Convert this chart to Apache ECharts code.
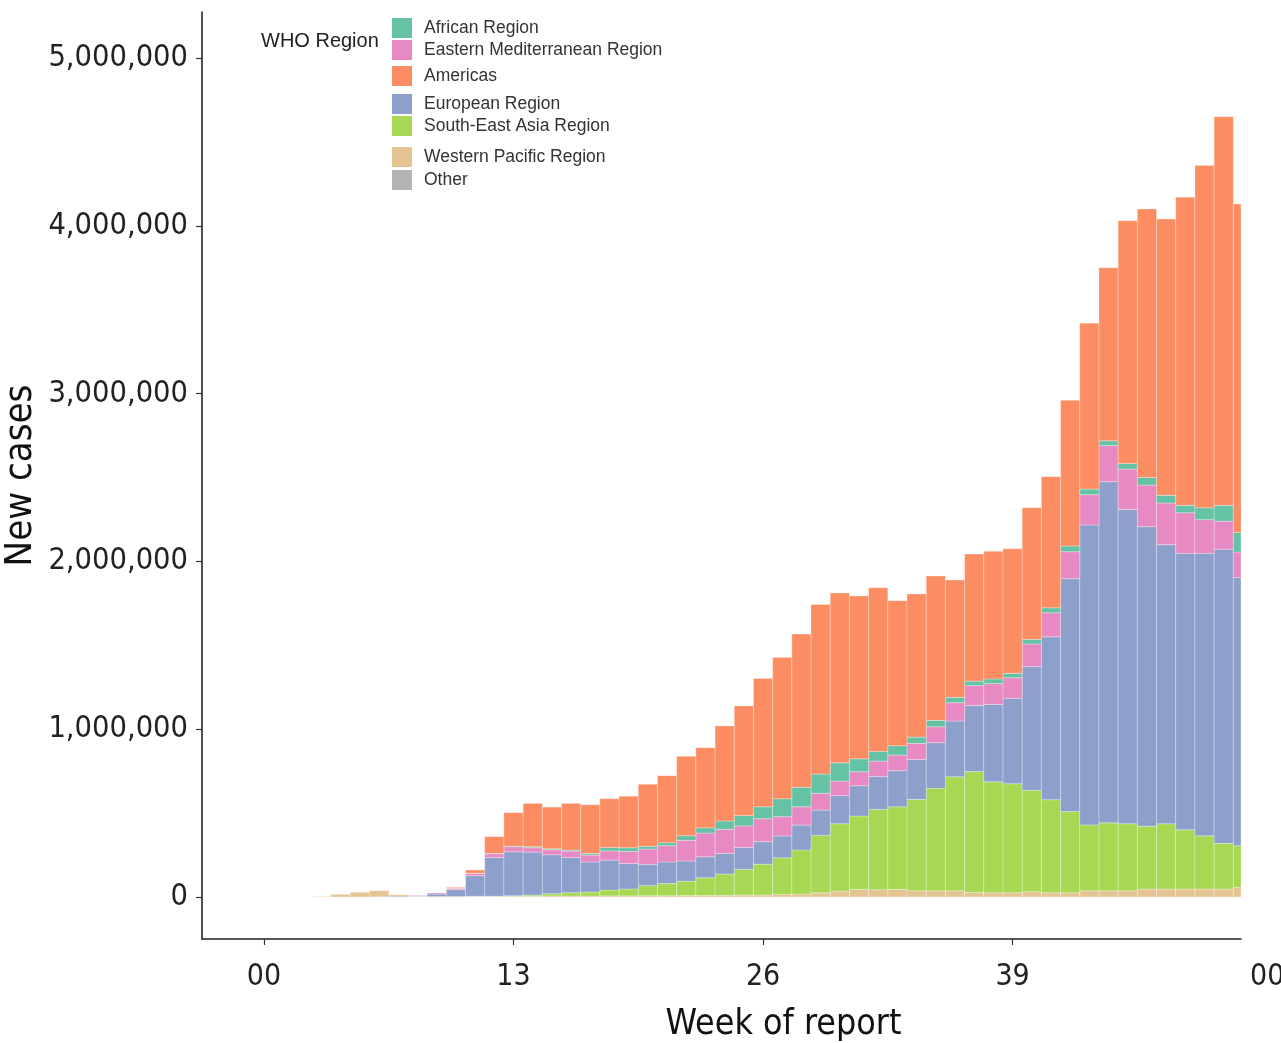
<!DOCTYPE html>
<html>
<head>
<meta charset="utf-8">
<title>New cases by WHO region</title>
<script src="https://cdn.jsdelivr.net/npm/echarts@6/dist/echarts.min.js"></script>
<style>
    html, body { margin: 0; padding: 0; background: #ffffff; }
    #chart { width: 1281px; height: 1043px; }
</style>
</head>
<body>
<div id="chart"></div>
<script>
// Week of report
const weeks = [0, 1, 2, 3, 4, 5, 6, 7, 8, 9, 10, 11, 12, 13, 14, 15, 16, 17, 18, 19, 20, 21, 22, 23, 24, 25,
    26, 27, 28, 29, 30, 31, 32, 33, 34, 35, 36, 37, 38, 39, 40, 41, 42, 43, 44, 45, 46, 47, 48, 49, 50, 51];

// New cases per week, one list per WHO region
const other = [0, 0, 0, 0, 0, 0, 2000, 6000, 3000, 0, 0, 0, 0, 0, 0, 0, 0, 0, 0, 0, 0, 0, 0, 0, 0, 0,
    0, 0, 0, 0, 0, 0, 0, 0, 0, 0, 0, 0, 0, 0, 0, 0, 0, 0, 0, 0, 0, 0, 0, 0, 0, 0];
const westernPacific = [0, 0, 0, 3000, 16000, 28000, 36000, 8000, 4000, 3000, 2000, 3000, 4000, 5000, 5000, 6000,
    6000, 6000, 7000, 7000, 8000, 8000, 9000, 9000, 10000, 12000, 12000, 15000, 18000, 25000, 36000, 46000, 44000,
    46000, 38000, 38000, 38000, 28000, 26000, 26000, 32000, 26000, 26000, 38000, 38000, 38000, 48000, 48000, 48000,
    48000, 48000, 58000];
const southEastAsia = [0, 0, 0, 0, 0, 0, 0, 0, 0, 0, 1000, 2000, 1000, 3000, 7000, 14000, 20000, 24000, 35000,
    41000, 60000, 73000, 86000, 106000, 127000, 153000, 184000, 219000, 262000, 343000, 401000, 437000, 478000,
    492000, 544000, 610000, 679000, 720000, 661000, 649000, 604000, 554000, 484000, 392000, 404000, 399000, 374000,
    389000, 353000, 317000, 272000, 247000];
const european = [0, 0, 0, 0, 0, 0, 0, 0, 3000, 15000, 41000, 122000, 231000, 262000, 256000, 232000, 210000,
    179000, 178000, 152000, 127000, 128000, 120000, 125000, 123000, 131000, 134000, 130000, 149000, 150000, 167000,
    180000, 197000, 215000, 238000, 272000, 332000, 394000, 461000, 509000, 737000, 971000, 1387000, 1787000,
    2033000, 1873000, 1785000, 1663000, 1647000, 1683000, 1752000, 1598000];
const easternMed = [0, 0, 0, 0, 0, 0, 0, 0, 2000, 6000, 8000, 14000, 22000, 30000, 26000, 30000, 38000, 41000,
    55000, 72000, 91000, 97000, 123000, 141000, 143000, 128000, 137000, 115000, 109000, 100000, 87000, 84000, 91000,
    93000, 96000, 95000, 109000, 118000, 124000, 123000, 135000, 143000, 161000, 181000, 215000, 240000, 248000,
    248000, 242000, 201000, 168000, 153000];
const african = [0, 0, 0, 0, 0, 0, 0, 0, 0, 0, 1000, 1000, 2000, 4000, 6000, 6000, 6000, 10000, 20000, 22000,
    16000, 18000, 28000, 32000, 50000, 62000, 71000, 107000, 116000, 115000, 109000, 77000, 58000, 56000, 37000,
    38000, 32000, 27000, 28000, 26000, 28000, 30000, 34000, 33000, 29000, 34000, 45000, 46000, 44000, 71000, 94000,
    117000];
const americas = [0, 0, 0, 0, 0, 0, 0, 0, 0, 0, 5000, 19000, 100000, 199000, 258000, 248000, 278000, 290000,
    291000, 306000, 370000, 399000, 473000, 477000, 567000, 653000, 765000, 842000, 913000, 1011000, 1012000, 970000,
    975000, 864000, 853000, 860000, 699000, 757000, 760000, 742000, 784000, 781000, 868000, 989000, 1031000, 1446000,
    1600000, 1646000, 1836000, 2040000, 2316000, 1957000];

// Axis ticks
const xTicks = [0, 13, 26, 39];
const yTicks = [0, 1000000, 2000000, 3000000, 4000000, 5000000];

// Stack order, bottom to top
const regions = [
    { name: 'Other', values: other, color: '#B3B3B3' },
    { name: 'Western Pacific Region', values: westernPacific, color: '#E5C494' },
    { name: 'South-East Asia Region', values: southEastAsia, color: '#A6D854' },
    { name: 'European Region', values: european, color: '#8DA0CB' },
    { name: 'Eastern Mediterranean Region', values: easternMed, color: '#E78AC3' },
    { name: 'African Region', values: african, color: '#66C2A5' },
    { name: 'Americas', values: americas, color: '#FC8D62' }
];

// Legend rows as they sit in the key (centre y of each swatch)
const legendRows = [
    ['African Region', 28],
    ['Eastern Mediterranean Region', 50],
    ['Americas', 76],
    ['European Region', 104],
    ['South-East Asia Region', 126],
    ['Western Pacific Region', 157],
    ['Other', 180]
];

const axisFont = 'DejaVu Sans Condensed, DejaVu Sans, sans-serif';
const legendFont = 'Liberation Sans, Arial, sans-serif';

// Stacked segments: [week, bottom, top] for every region
function buildSeries() {
    const base = weeks.map(() => 0);
    return regions.map(region => {
        const data = weeks.map((w, i) => {
            const bottom = base[i];
            base[i] += region.values[i];
            return [w, bottom, base[i]];
        });
        return {
            name: region.name,
            type: 'custom',
            clip: true,
            itemStyle: { color: region.color },
            encode: { x: 0, y: [1, 2] },
            data: data,
            renderItem: (params, api) => {
                if (api.value(2) <= api.value(1)) return null;
                const topLeft = api.coord([api.value(0) - 0.5, api.value(2)]);
                const bottomRight = api.coord([api.value(0) + 0.5, api.value(1)]);
                const shape = echarts.graphic.clipRectByRect({
                    x: topLeft[0],
                    y: topLeft[1],
                    width: bottomRight[0] - topLeft[0],
                    height: bottomRight[1] - topLeft[1]
                }, {
                    x: params.coordSys.x,
                    y: params.coordSys.y,
                    width: params.coordSys.width,
                    height: params.coordSys.height
                });
                if (!shape) return null;
                return {
                    type: 'rect',
                    shape: shape,
                    style: {
                        fill: region.color,
                        stroke: 'rgba(255, 255, 255, 0.4)',
                        lineWidth: 0.7
                    }
                };
            }
        };
    });
}

function buildLegends() {
    return legendRows.map(([name, cy]) => ({
        data: [name],
        left: 392,
        top: cy - 10,
        padding: 0,
        itemWidth: 20,
        itemHeight: 20,
        icon: 'rect',
        selectedMode: false,
        textStyle: {
            fontFamily: legendFont,
            fontSize: 17.5,
            color: '#333333',
            padding: [0, 0, 0, 7]
        }
    }));
}

const chart = echarts.init(document.getElementById('chart'));

chart.setOption({
    backgroundColor: '#ffffff',
    animation: false,
    title: {
        text: 'WHO Region',
        left: 261,
        top: 31,
        padding: 0,
        textStyle: {
            fontFamily: legendFont,
            fontSize: 20,
            fontWeight: 'normal',
            color: '#222222'
        }
    },
    legend: buildLegends(),
    // keep the plot box fixed; the axis names sit outside it on purpose
    grid: { left: 202, right: 40, top: 12, bottom: 104, outerBoundsMode: 'none' },
    xAxis: {
        type: 'value',
        min: -3.23,
        max: 50.9,
        name: 'Week of report',
        nameLocation: 'middle',
        nameGap: 68,
        nameMoveOverlap: false,
        nameTextStyle: {
            fontFamily: axisFont,
            fontSize: 35.5,
            color: '#111111',
            padding: [0, 0, 0, 124]
        },
        axisLine: { onZero: false, lineStyle: { color: '#222222', width: 1.6 } },
        axisTick: { customValues: xTicks, length: 6, lineStyle: { color: '#333333', width: 1.2 } },
        axisLabel: {
            customValues: xTicks,
            margin: 23,
            fontFamily: axisFont,
            fontSize: 30,
            color: '#222222',
            formatter: v => String(v % 52).padStart(2, '0')
        },
        splitLine: { show: false }
    },
    yAxis: {
        type: 'value',
        min: -250000,
        max: 5274000,
        name: 'New cases',
        nameLocation: 'middle',
        nameGap: 162,
        nameMoveOverlap: false,
        nameTextStyle: {
            fontFamily: axisFont,
            fontSize: 38,
            color: '#111111'
        },
        axisLine: { show: true, onZero: false, lineStyle: { color: '#222222', width: 1.6 } },
        axisTick: { show: true, customValues: yTicks, length: 6, lineStyle: { color: '#333333', width: 1.2 } },
        axisLabel: {
            customValues: yTicks,
            margin: 14,
            fontFamily: axisFont,
            fontSize: 30.5,
            color: '#222222',
            formatter: v => v.toLocaleString('en-US')
        },
        splitLine: { show: false }
    },
    graphic: [{
        // tick label for week 52, which sits past the plot edge
        type: 'text',
        left: 1250,
        top: 962,
        style: {
            text: '00',
            font: '30px ' + axisFont,
            fill: '#222222'
        }
    }],
    series: buildSeries()
});
</script>
</body>
</html>
